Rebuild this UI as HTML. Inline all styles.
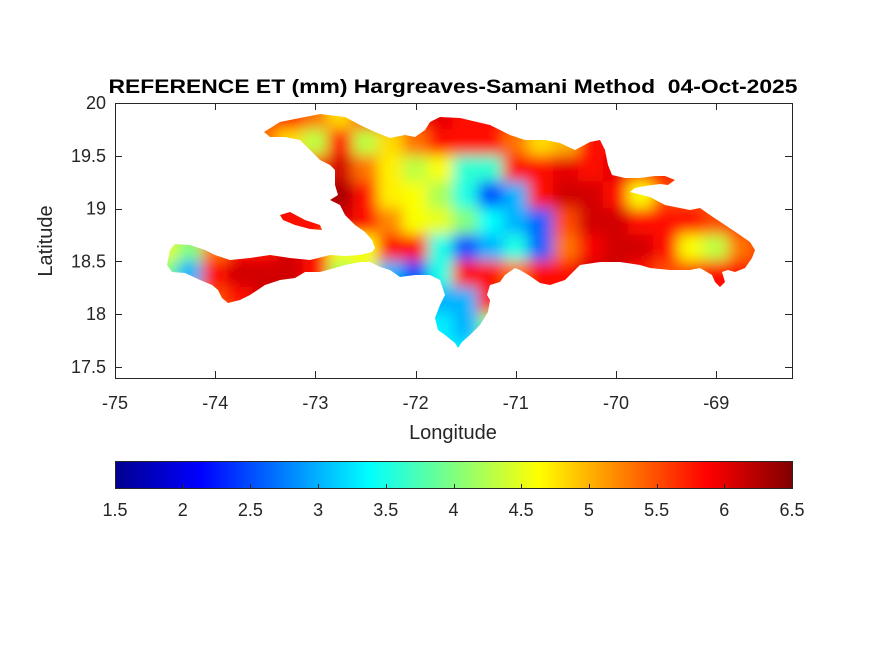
<!DOCTYPE html>
<html><head><meta charset="utf-8"><style>
body{margin:0;background:#fff;}
svg{display:block;font-family:"Liberation Sans",Arial,sans-serif;}
</style></head><body>
<svg id="fig" width="875" height="656" viewBox="0 0 875 656" xmlns="http://www.w3.org/2000/svg">
<defs>
<clipPath id="land">
<path d="M264,132 L280,122 L300,118 L320,114 L345,117 L360,125 L375,132 L390,138 L405,135 L415,137 L425,130 L430,122 L440,117 L460,118 L490,125 L510,135 L525,140 L545,140 L560,143 L575,150 L590,142 L600,140 L605,150 L608,165 L612,175 L625,178 L640,178 L655,176 L665,176 L675,180 L668,185 L660,184 L645,186 L635,188 L630,192 L650,197 L665,205 L690,210 L700,208 L710,215 L725,225 L740,235 L750,242 L755,250 L752,258 L745,268 L735,272 L728,270 L722,272 L725,282 L720,287 L715,282 L712,275 L700,268 L690,270 L670,270 L650,268 L640,265 L620,262 L600,262 L580,265 L565,280 L550,285 L540,283 L530,276 L520,270 L515,268 L505,275 L500,282 L490,285 L487,295 L490,300 L488,312 L480,325 L470,335 L462,342 L458,348 L455,343 L445,335 L438,330 L435,318 L440,305 L445,295 L440,280 L430,275 L415,275 L400,277 L390,270 L380,267 L370,262 L360,262 L345,265 L335,268 L320,272 L305,272 L295,278 L280,280 L265,285 L250,295 L240,300 L228,303 L222,298 L218,290 L212,285 L200,280 L185,273 L172,272 L167,265 L170,250 L175,244 L190,245 L205,250 L215,255 L230,260 L250,258 L270,255 L290,258 L310,260 L330,255 L345,256 L360,255 L372,252 L375,248 L372,240 L365,232 L355,225 L345,215 L340,205 L330,200 L338,195 L335,185 L335,170 L330,165 L320,160 L310,150 L300,140 L285,137 L270,137 Z"/>
<path d="M280,215 L290,212 L305,220 L320,225 L322,230 L310,229 L295,225 L283,220 Z"/>
</clipPath>
<filter id="blur" x="-10%" y="-10%" width="120%" height="120%"><feGaussianBlur stdDeviation="7"/></filter>
<linearGradient id="jet" x1="0" x2="1" y1="0" y2="0">
<stop offset="0" stop-color="#00008f"/><stop offset="0.125" stop-color="#0000ff"/>
<stop offset="0.375" stop-color="#00ffff"/><stop offset="0.625" stop-color="#ffff00"/>
<stop offset="0.875" stop-color="#ff0000"/><stop offset="1" stop-color="#800000"/>
</linearGradient>
</defs>
<text x="453" y="93" text-anchor="middle" font-size="19.5" font-weight="bold" textLength="689" lengthAdjust="spacingAndGlyphs" xml:space="preserve">REFERENCE ET (mm) Hargreaves-Samani Method  04-Oct-2025</text>
<g clip-path="url(#land)"><g id="cells" filter="url(#blur)"></g></g>
<rect x="115.5" y="103.5" width="677" height="275" fill="none" stroke="#262626" stroke-width="1"/>
<g id="axes"></g>
<text x="453" y="439" text-anchor="middle" font-size="20" fill="#262626">Longitude</text>
<text transform="translate(52,241) rotate(-90)" text-anchor="middle" font-size="20" fill="#262626">Latitude</text>
<rect x="115.5" y="461.5" width="677" height="27" fill="url(#jet)" stroke="#262626"/>
<g id="cbaxis"></g>
</svg>
<script>
const lonCenters = [-74.5,-74.25,-74,-73.75,-73.5,-73.25,-73,-72.75,-72.5,-72.25,-72,-71.75,-71.5,-71.25,-71,-70.75,-70.5,-70.25,-70,-69.75,-69.5,-69.25,-69,-68.75,-68.5,-68.25];
const latCenters = [19.875,19.625,19.375,19.125,18.875,18.625,18.375,18.125,17.875,17.625];
const etValues = [
[5.5,5.5,5.5,5.5,5.5,5.8,5.3,4.8,5.8,5.8,5.8,6,5.8,5.8,5.8,5.8,5.8,5.8,5.8,5.8,5.8,5.8,5.8,5.8,5.8,5.8],
[5.5,5.5,5.5,5.5,5.3,4.8,4.3,5.8,4.3,4.8,5.3,5.8,5.8,5.8,5.3,4.8,5,5.8,5.8,5.8,5.8,5.8,5.8,5.8,5.8,5.8],
[5.5,5.5,5.5,5.5,5.8,5.8,5.5,6.1,5.3,4.7,4.3,4.6,3.6,3.6,5.8,5.8,6,5.8,6,5.8,5.8,5.8,5.8,5.8,5.8,5.8],
[5.5,5.5,5.5,5.5,5.8,6.1,6.2,6.3,5.8,4.7,4.6,4.2,3.5,2.5,3,5.8,6.1,6.1,5.8,4.6,5.5,5.5,5.5,5.5,5.5,5.5],
[5.5,5.5,5.5,5.5,5.8,5.8,5.8,6.1,5.8,5.2,4.6,4.5,4,3.4,3,2.6,5.5,6.1,6.1,5.8,5.8,5.8,5.5,5.8,5.8,5.8],
[4.5,4,5.3,5.8,5.8,6.1,5.8,4.6,4.6,5.8,5.8,3.5,2.5,3,3.5,2.6,5.3,5.9,6.1,6.1,5.8,4.6,4.3,5.3,5.8,5.8],
[4,3,5.8,6.1,6.1,6.1,5.8,4.2,4.5,3,2.5,3.5,5.8,5.8,5.3,5.8,5.8,6.1,6.1,5.8,5.5,5.5,5.8,5.8,5.8,5.8],
[5,5,5.5,5.8,6.1,6.1,5.8,4,4,3,3,3,3,5.8,5.8,5.8,5.8,5.8,5.8,5.8,5.8,5.8,5.8,5.8,5.8,5.8],
[5,5,5,5,5,5,5,4,4,3.5,3.3,3.3,3,4,5,5,5,5,5,5,5,5,5,5,5,5],
[5,5,5,5,5,5,5,4,4,3.5,3.3,3.3,3.3,4,5,5,5,5,5,5,5,5,5,5,5,5]];
const xTicks = [-75,-74,-73,-72,-71,-70,-69];
const yTicks = [20,19.5,19,18.5,18,17.5];
const cbTicks = [1.5,2,2.5,3,3.5,4,4.5,5,5.5,6,6.5];
const cmin = 1.5, cmax = 6.5;
const NS = "http://www.w3.org/2000/svg";
const xScale = lon => 115 + (lon + 75) * 100.2;
const yScale = lat => 103 + (20 - lat) * 105.5;
const cScale = v => 115 + (v - cmin) / (cmax - cmin) * 677;
function jet(v){
  const t = Math.max(0, Math.min(1, (v - cmin) / (cmax - cmin)));
  const c = x => Math.round(255 * Math.max(0, Math.min(1, 1.5 - Math.abs(4 * t - x))));
  return `rgb(${c(3)},${c(2)},${c(1)})`;
}
const cells = document.getElementById('cells');
const dx = 100.2 * 0.25, dy = 105.5 * 0.25;
latCenters.forEach((lat, r) => {
  lonCenters.forEach((lon, c) => {
    const el = document.createElementNS(NS, 'rect');
    
    
    el.setAttribute('x', xScale(lon) - dx / 2 - 0.5);
    el.setAttribute('y', yScale(lat) - dy / 2 - 0.5);
    el.setAttribute('width', dx + 1);
    el.setAttribute('height', dy + 1);
    el.setAttribute('fill', jet(etValues[r][c]));
    cells.appendChild(el);
  });
});
const axes = document.getElementById('axes');
function add(tag, attrs, text, parent){
  const el = document.createElementNS(NS, tag);
  for (const k in attrs) el.setAttribute(k, attrs[k]);
  if (text !== undefined) el.textContent = text;
  parent.appendChild(el);
  return el;
}
xTicks.forEach(v => {
  const x = Math.round(xScale(v)) + 0.5;
  add('line', {x1:x, x2:x, y1:378, y2:371, stroke:'#262626'}, undefined, axes);
  add('line', {x1:x, x2:x, y1:103, y2:110, stroke:'#262626'}, undefined, axes);
  const t = add('text', {x:xScale(v), y:409, 'text-anchor':'middle', 'font-size':18, fill:'#262626'}, String(v), axes);
  
  
});
yTicks.forEach(v => {
  const y = Math.round(yScale(v)) + 0.5;
  add('line', {x1:115, x2:122, y1:y, y2:y, stroke:'#262626'}, undefined, axes);
  add('line', {x1:792, x2:785, y1:y, y2:y, stroke:'#262626'}, undefined, axes);
  const t = add('text', {x:106, y:yScale(v) + 6, 'text-anchor':'end', 'font-size':18, fill:'#262626'}, String(v), axes);
  
  
});
const cb = document.getElementById('cbaxis');
cbTicks.forEach(v => {
  const x = Math.round(cScale(v)) + 0.5;
  add('line', {x1:x, x2:x, y1:488, y2:484, stroke:'#262626'}, undefined, cb);
  const t = add('text', {x:cScale(v), y:516, 'text-anchor':'middle', 'font-size':18, fill:'#262626'}, String(v), cb);
  
  
});
</script>
</body></html>
